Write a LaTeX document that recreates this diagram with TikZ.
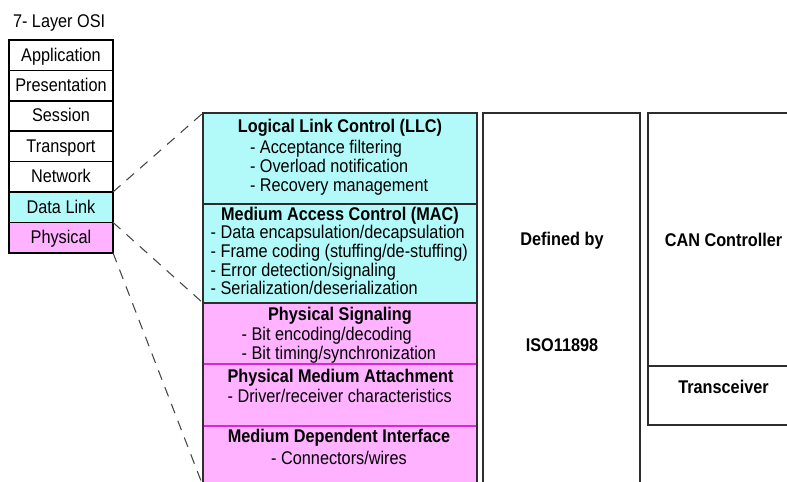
\documentclass[tikz,border=0pt]{standalone}
\usepackage{fontspec}
\usepackage{graphicx}
\setmainfont{Liberation Sans}
\definecolor{llccyan}{RGB}{178,250,250}
\definecolor{phypink}{RGB}{255,178,255}
\definecolor{sepmag}{RGB}{215,40,215}
\definecolor{edge}{RGB}{45,45,45}
\definecolor{dashc}{RGB}{70,70,70}
\newcommand{\tallT}[1]{\scalebox{1}[1.13]{#1}}
\begin{document}
\begin{tikzpicture}[x=0.75pt,y=-0.75pt,
  every node/.style={font=\fontsize{12.2}{14.25}\selectfont, inner sep=0pt, outer sep=0pt},
  osibox/.style={draw=black, line width=1.1pt, minimum width=78pt, minimum height=22.8pt},
  lbl/.style={anchor=base},
  lblw/.style={anchor=base west},
  head/.style={anchor=base, font=\fontsize{12.2}{14.25}\selectfont\bfseries},
  conn/.style={draw=dashc, line width=0.8pt, dash pattern=on 7.5pt off 6pt},
  edgeline/.style={draw=edge, line width=1.1pt},
  magline/.style={draw=sepmag, line width=1.1pt}
]
\useasboundingbox (0,0) rectangle (787,481);
\clip (0,0) rectangle (787,481);

% title
\node[anchor=base west] (title) at (13,28) {\tallT{7- Layer OSI}};

% OSI stack
\node[osibox] (app)  at (61,55.2)  {};
\node[osibox] (pres) at (61,85.6)  {};
\node[osibox] (ses)  at (61,116.0) {};
\node[osibox] (tra)  at (61,146.4) {};
\node[osibox] (net)  at (61,176.8) {};
\node[osibox, fill=llccyan] (dl)  at (61,207.2) {};
\node[osibox, fill=phypink] (phy) at (61,237.6) {};
\node[lbl] (appT)  at (61,61.2)  {\tallT{Application}};
\node[lbl] (presT) at (61,91.6)  {\tallT{Presentation}};
\node[lbl] (sesT)  at (61,122.0) {\tallT{Session}};
\node[lbl] (traT)  at (61,152.4) {\tallT{Transport}};
\node[lbl] (netT)  at (61,182.8) {\tallT{Network}};
\node[lbl] (dlT)   at (61,213.2) {\tallT{Data Link}};
\node[lbl] (phyT)  at (61,243.6) {\tallT{Physical}};

% main column boxes (fills)
\node[fill=llccyan, minimum width=205.5pt, minimum height=68.25pt] (llc) at (340,158.5) {};
\node[fill=llccyan, minimum width=205.5pt, minimum height=74.25pt] (mac) at (340,253.5) {};
\node[fill=phypink, minimum width=205.5pt, minimum height=45.75pt] (ps)  at (340,333.5) {};
\node[fill=phypink, minimum width=205.5pt, minimum height=46.5pt]  (pma) at (340,395) {};
\node[fill=phypink, minimum width=205.5pt, minimum height=45pt]    (mdi) at (340,456) {};

% separators and outline
\draw[magline] (ps.south west) -- (ps.south east);
\draw[magline] (pma.south west) -- (pma.south east);
\draw[edgeline] (llc.south west) -- (llc.south east);
\draw[edgeline] (mac.south west) -- (mac.south east);
\draw[edgeline] (mdi.south west) -- (llc.north west) -- (llc.north east) -- (mdi.south east);

% main column text
\node[head] (llcH) at (340,132.2) {\tallT{Logical Link Control (LLC)}};
\node[lblw] (llc1) at (250,153.4) {\tallT{- Acceptance filtering}};
\node[lblw] (llc2) at (250,172.4) {\tallT{- Overload notification}};
\node[lblw] (llc3) at (250,191.4) {\tallT{- Recovery management}};

\node[head] (macH) at (340,220.8) {\tallT{Medium Access Control (MAC)}};
\node[lblw] (mac1) at (210.7,238.5) {\tallT{- Data encapsulation/decapsulation}};
\node[lblw] (mac2) at (210.7,257.5) {\tallT{- Frame coding (stuffing/de-stuffing)}};
\node[lblw] (mac3) at (210.7,276.1) {\tallT{- Error detection/signaling}};
\node[lblw] (mac4) at (210.7,294.8) {\tallT{- Serialization/deserialization}};

\node[head] (psH) at (340,320.8) {\tallT{Physical Signaling}};
\node[lblw] (ps1) at (241.7,340.1) {\tallT{- Bit encoding/decoding}};
\node[lblw] (ps2) at (241.7,359.8) {\tallT{- Bit timing/synchronization}};

\node[head] (pmaH) at (340.5,382.5) {\tallT{Physical Medium Attachment}};
\node[lbl]  (pma1) at (339.7,402.5) {\tallT{- Driver/receiver characteristics}};

\node[head] (mdiH) at (339,442.5) {\tallT{Medium Dependent Interface}};
\node[lbl]  (mdi1) at (339,464.1) {\tallT{- Connectors/wires}};

% defined-by column
\node[draw=edge, line width=1.1pt, minimum width=117.75pt, minimum height=282.75pt] (def) at (561.5,301.5) {};
\node[head] (defT1) at (562,245) {\tallT{Defined by}};
\node[head] (defT2) at (562,351) {\tallT{ISO11898}};

% CAN controller / transceiver column
\node[draw=edge, line width=1.1pt, minimum width=112.5pt, minimum height=189.75pt] (can) at (723,239.5) {};
\node[draw=edge, line width=1.1pt, minimum width=112.5pt, minimum height=44.25pt] (trx) at (723,395.5) {};
\node[head] (canT) at (723.5,246) {\tallT{CAN Controller}};
\node[head] (trxT) at (723.5,393.5) {\tallT{Transceiver}};

% dashed connectors
\draw[conn] (net.south east) -- (llc.north west);
\draw[conn] (dl.south east) -- (mac.south west);
\draw[conn] (phy.south east) -- (mdi.south west);
\end{tikzpicture}
\end{document}
